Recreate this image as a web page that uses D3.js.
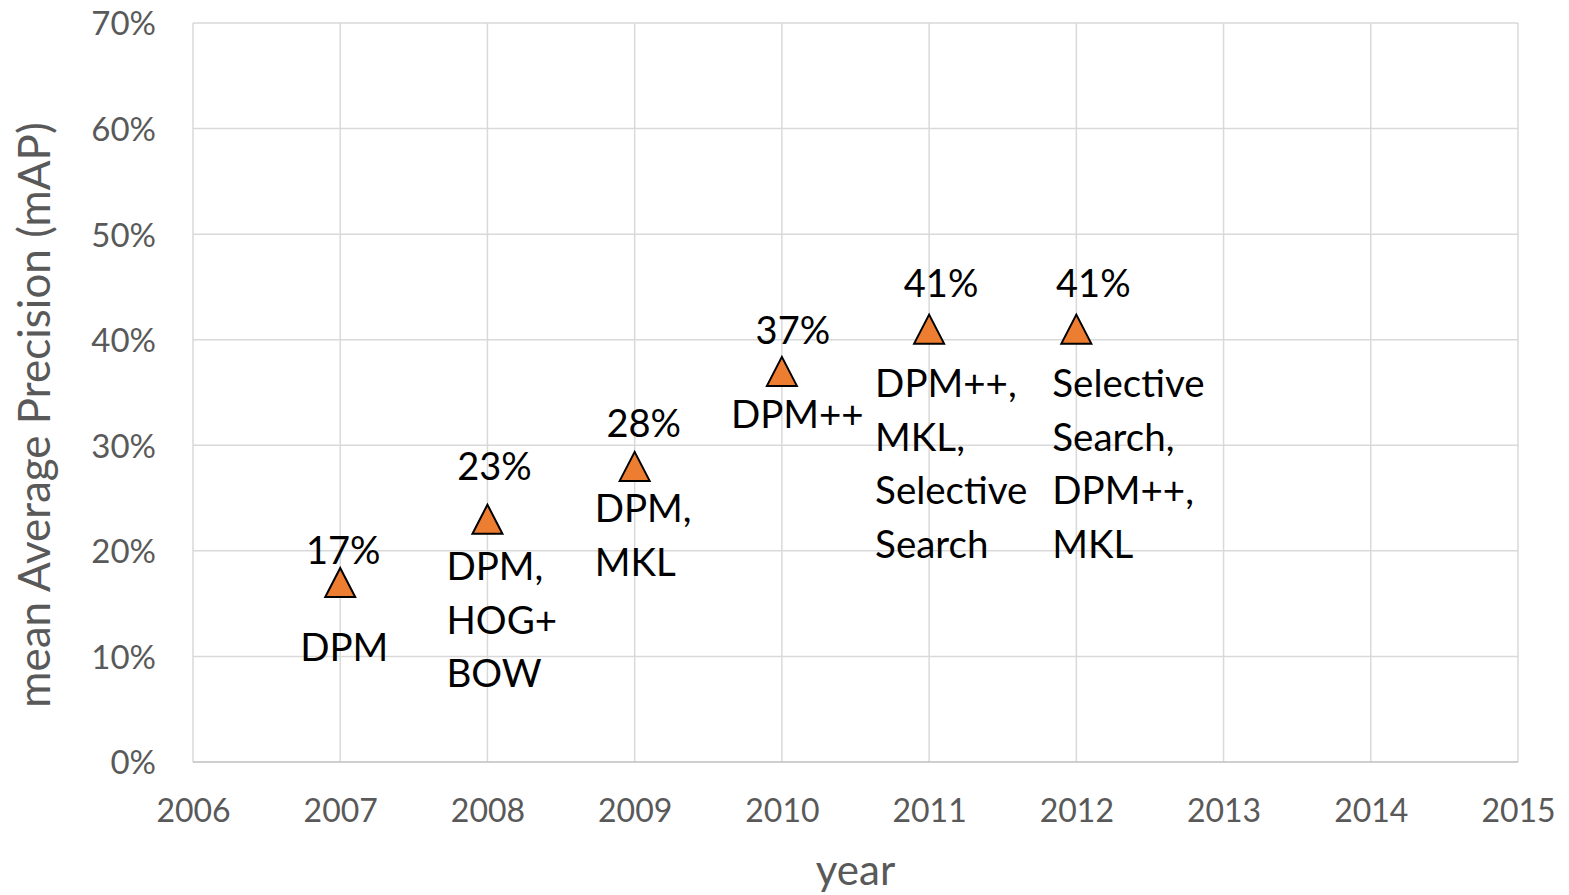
<!DOCTYPE html>
<html>
<head>
<meta charset="utf-8">
<script src="https://cdn.jsdelivr.net/npm/d3@7/dist/d3.min.js"></script>
<style>
  html, body { margin: 0; padding: 0; background: #fff; }
  svg { display: block; font-family: Lato, "Noto Sans", sans-serif; }
</style>
</head>
<body>
<svg id="chart" width="1569" height="895"></svg>
<script>
// PASCAL VOC detection results by year
const years = [2007, 2008, 2009, 2010, 2011, 2012];
const mapValues = [0.17, 0.23, 0.28, 0.37, 0.41, 0.41];
const methods = [
  ["DPM"],
  ["DPM,", "HOG+", "BOW"],
  ["DPM,", "MKL"],
  ["DPM++"],
  ["DPM++,", "MKL,", "Selective", "Search"],
  ["Selective", "Search,", "DPM++,", "MKL"]
];
const xTicks = [2006, 2007, 2008, 2009, 2010, 2011, 2012, 2013, 2014, 2015];
const yTicks = [0, 0.1, 0.2, 0.3, 0.4, 0.5, 0.6, 0.7];

// hand-placed label nudges (pixels, relative to each marker)
const labelLayout = [
  { vdx: 3,  vdy: -19, ndx: -40, ndy: 78 },
  { vdx: 7,  vdy: -39, ndx: -41, ndy: 61 },
  { vdx: 9,  vdy: -29, ndx: -40, ndy: 56 },
  { vdx: 11, vdy: -27, ndx: -51, ndy: 57 },
  { vdx: 12, vdy: -32, ndx: -54, ndy: 68 },
  { vdx: 17, vdy: -32, ndx: -24, ndy: 68 }
];

const svg = d3.select("#chart");
const plot = { left: 193, right: 1518, top: 23, bottom: 762 };

const x = d3.scaleLinear().domain([2006, 2015]).range([plot.left, plot.right]);
const y = d3.scaleLinear().domain([0, 0.7]).range([plot.bottom, plot.top]);

// gridlines
svg.append("g")
  .selectAll("line.h")
  .data(yTicks.filter(t => t > 0))
  .join("line")
  .attr("x1", plot.left).attr("x2", plot.right)
  .attr("y1", d => y(d)).attr("y2", d => y(d))
  .attr("stroke", "#d9d9d9").attr("stroke-width", 1.5);

svg.append("g")
  .selectAll("line.v")
  .data(xTicks)
  .join("line")
  .attr("x1", d => x(d)).attr("x2", d => x(d))
  .attr("y1", plot.top).attr("y2", plot.bottom)
  .attr("stroke", "#d9d9d9").attr("stroke-width", 1.5);

// axis baseline
svg.append("line")
  .attr("x1", plot.left).attr("x2", plot.right)
  .attr("y1", plot.bottom).attr("y2", plot.bottom)
  .attr("stroke", "#bfbfbf").attr("stroke-width", 1.5);

// x axis labels
const xAxis = d3.axisBottom(x).tickValues(xTicks).tickFormat(d3.format("d")).tickSize(0).tickPadding(0);
const gx = svg.append("g").attr("transform", `translate(0,${plot.bottom})`).call(xAxis);
gx.select(".domain").remove();
gx.selectAll("text")
  .attr("y", 60).attr("dy", null)
  .attr("fill", "#595959")
  .style("font-size", "32px")
  .style("font-family", "Lato, sans-serif");

// y axis labels
const yAxis = d3.axisLeft(y).tickValues(yTicks).tickFormat(d3.format(".0%")).tickSize(0).tickPadding(0);
const gy = svg.append("g").attr("transform", `translate(156,0)`).call(yAxis);
gy.select(".domain").remove();
gy.selectAll("text")
  .attr("x", 0).attr("dy", "0.36em")
  .attr("fill", "#595959")
  .style("font-size", "33px")
  .style("font-family", "Lato, sans-serif");

// axis titles
svg.append("text")
  .attr("x", (plot.left + plot.right) / 2)
  .attr("y", 885)
  .attr("text-anchor", "middle")
  .attr("fill", "#595959")
  .style("font-size", "42px")
  .text("year");

svg.append("text")
  .attr("transform", `translate(50,415) rotate(-90)`)
  .attr("text-anchor", "middle")
  .attr("fill", "#595959")
  .style("font-size", "44px")
  .text("mean Average Precision (mAP)");

// markers: upright triangles centred on the point
const points = years.map((yr, i) => ({ year: yr, value: mapValues[i], names: methods[i], lay: labelLayout[i] }));
const tri = (cx, cy) => {
  const w = 30, h = 29;
  return `M${cx},${cy - h / 2}L${cx + w / 2},${cy + h / 2}L${cx - w / 2},${cy + h / 2}Z`;
};

svg.append("g")
  .selectAll("path")
  .data(points)
  .join("path")
  .attr("d", d => tri(x(d.year), y(d.value)))
  .attr("fill", "#ED7D31")
  .attr("stroke", "#000")
  .attr("stroke-width", 2)
  .attr("stroke-linejoin", "miter");

// value labels
svg.append("g")
  .selectAll("text")
  .data(points)
  .join("text")
  .attr("x", d => x(d.year) + d.lay.vdx)
  .attr("y", d => y(d.value) + d.lay.vdy)
  .attr("text-anchor", "middle")
  .attr("fill", "#000")
  .style("font-size", "38px")
  .text(d => d3.format(".0%")(d.value));

// method labels
const nameGroups = svg.append("g")
  .selectAll("text")
  .data(points)
  .join("text")
  .attr("fill", "#000")
  .style("font-size", "38.5px");

nameGroups.selectAll("tspan")
  .data(d => d.names.map((n, j) => ({ n, j, d })))
  .join("tspan")
  .attr("x", t => x(t.d.year) + t.d.lay.ndx)
  .attr("y", t => y(t.d.value) + t.d.lay.ndy + t.j * 53.5)
  .text(t => t.n);
</script>
</body>
</html>
